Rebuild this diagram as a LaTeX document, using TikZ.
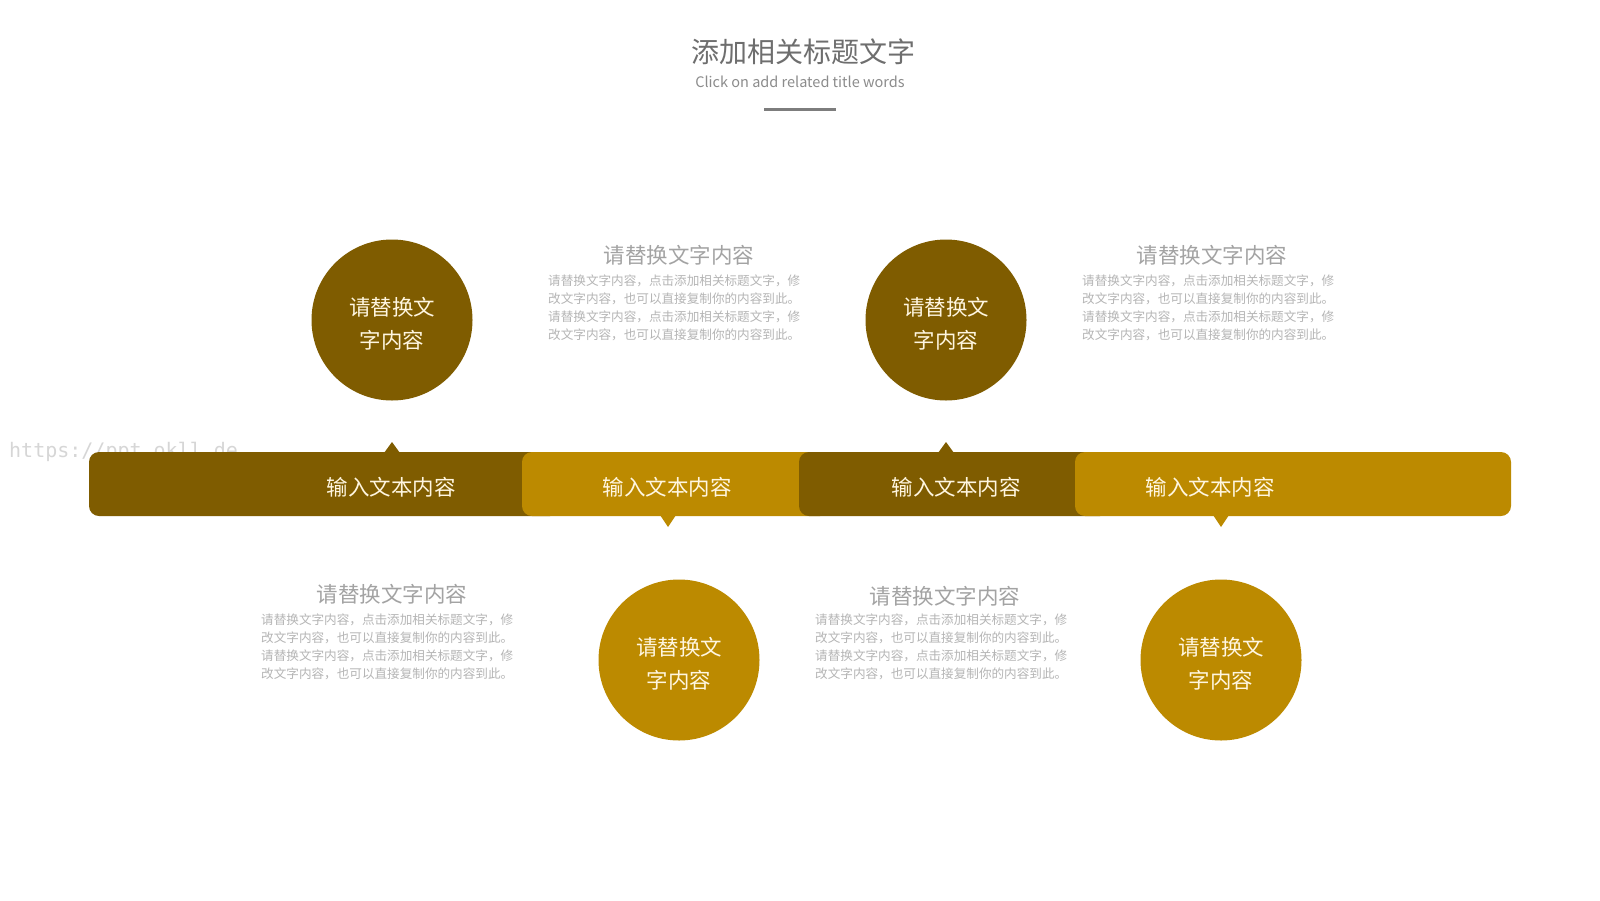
\documentclass[tikz,border=0pt]{standalone}
\usepackage{fontspec}
\setmainfont{Noto Sans CJK SC}
\newfontfamily\wmfont{DejaVu Sans Mono}
\definecolor{darkgold}{HTML}{7F5C00}
\definecolor{lightgold}{HTML}{BC8A00}
\definecolor{cream}{HTML}{FFF6E0}
\definecolor{titlegray}{HTML}{6E6E6E}
\definecolor{subgray}{HTML}{8C8C8C}
\definecolor{headgray}{HTML}{A3A3A3}
\definecolor{bodygray}{HTML}{B5B5B5}
\definecolor{wmgray}{HTML}{D6D6D6}
\tikzset{
  seg/.style={rectangle, rounded corners=10pt, minimum height=64pt, inner sep=0pt},
  bartext/.style={text=cream, font=\fontsize{21.5}{26}\selectfont, inner sep=0pt},
  bubble/.style={circle, minimum size=161pt, inner sep=0pt},
  bubbletext/.style={inner sep=0pt, align=center, text=cream, font=\fontsize{21.5}{32.5}\selectfont},
  heading/.style={text=headgray, font=\fontsize{21.5}{26}\selectfont, inner sep=0pt},
  body/.style={text=bodygray, font=\fontsize{12.6}{18}\selectfont, align=left, inner sep=0pt},
}
\begin{document}
\begin{tikzpicture}[x=1pt,y=-1pt]
\useasboundingbox (0,0) rectangle (1600,900);
\fill[white] (0,0) rectangle (1600,900);

% title
\node[text=titlegray, font=\fontsize{28}{32}\selectfont, inner sep=0pt] (title) at (803,52) {添加相关标题文字};
\node[text=subgray, font=\fontsize{14.5}{17}\selectfont, inner sep=0pt] (subtitle) at (800,82) {Click on add related title words};
\coordinate (ul1) at (764,109);
\coordinate (ul2) at (836,109);
\draw[line width=3pt, color=titlegray!90] (ul1) -- (ul2);

% watermark
\node[anchor=base west, text=wmgray, font=\wmfont\fontsize{20}{22}\selectfont, inner sep=0pt] (wm) at (9,457) {https://ppt.okll.de};

% bar segments
\node[seg, fill=darkgold, minimum width=471pt] (s1) at (324.5,484) {};
\fill[darkgold] (384,453) -- (392,442) -- (400,453) -- cycle;
\node[seg, fill=lightgold, minimum width=308pt] (s2) at (676,484) {};
\fill[lightgold] (660,515) -- (668,527) -- (676,515) -- cycle;
\node[seg, fill=darkgold, minimum width=311pt] (s3) at (954.5,484) {};
\fill[darkgold] (938,453) -- (946,442) -- (954,453) -- cycle;
\node[seg, fill=lightgold, minimum width=436pt] (s4) at (1293,484) {};
\fill[lightgold] (1213,515) -- (1221,527) -- (1229,515) -- cycle;

\node[bartext] (t1) at (391,487) {输入文本内容};
\node[bartext] (t2) at (667,487) {输入文本内容};
\node[bartext] (t3) at (956,487) {输入文本内容};
\node[bartext] (t4) at (1210,487) {输入文本内容};

% circles
\node[bubble, fill=darkgold] (c1) at (392,320) {};
\node[bubbletext] (c1t) at (392,324) {请替换文\\字内容};
\node[bubble, fill=darkgold] (c3) at (946,320) {};
\node[bubbletext] (c3t) at (946,324) {请替换文\\字内容};
\node[bubble, fill=lightgold] (c2) at (679,660) {};
\node[bubbletext] (c2t) at (679,664) {请替换文\\字内容};
\node[bubble, fill=lightgold] (c4) at (1221,660) {};
\node[bubbletext] (c4t) at (1221,664) {请替换文\\字内容};

% text blocks
\node[heading] (h2) at (679,255) {请替换文字内容};
\node[body, anchor=north west] (b2) at (548,275) {请替换文字内容，点击添加相关标题文字，修\\改文字内容，也可以直接复制你的内容到此。\\请替换文字内容，点击添加相关标题文字，修\\改文字内容，也可以直接复制你的内容到此。};

\node[heading] (h4) at (1212,255) {请替换文字内容};
\node[body, anchor=north west] (b4) at (1082,275) {请替换文字内容，点击添加相关标题文字，修\\改文字内容，也可以直接复制你的内容到此。\\请替换文字内容，点击添加相关标题文字，修\\改文字内容，也可以直接复制你的内容到此。};

\node[heading] (h1) at (392,594) {请替换文字内容};
\node[body, anchor=north west] (b1) at (261,614) {请替换文字内容，点击添加相关标题文字，修\\改文字内容，也可以直接复制你的内容到此。\\请替换文字内容，点击添加相关标题文字，修\\改文字内容，也可以直接复制你的内容到此。};

\node[heading] (h3) at (945,596) {请替换文字内容};
\node[body, anchor=north west] (b3) at (815,614) {请替换文字内容，点击添加相关标题文字，修\\改文字内容，也可以直接复制你的内容到此。\\请替换文字内容，点击添加相关标题文字，修\\改文字内容，也可以直接复制你的内容到此。};
\end{tikzpicture}
\end{document}
